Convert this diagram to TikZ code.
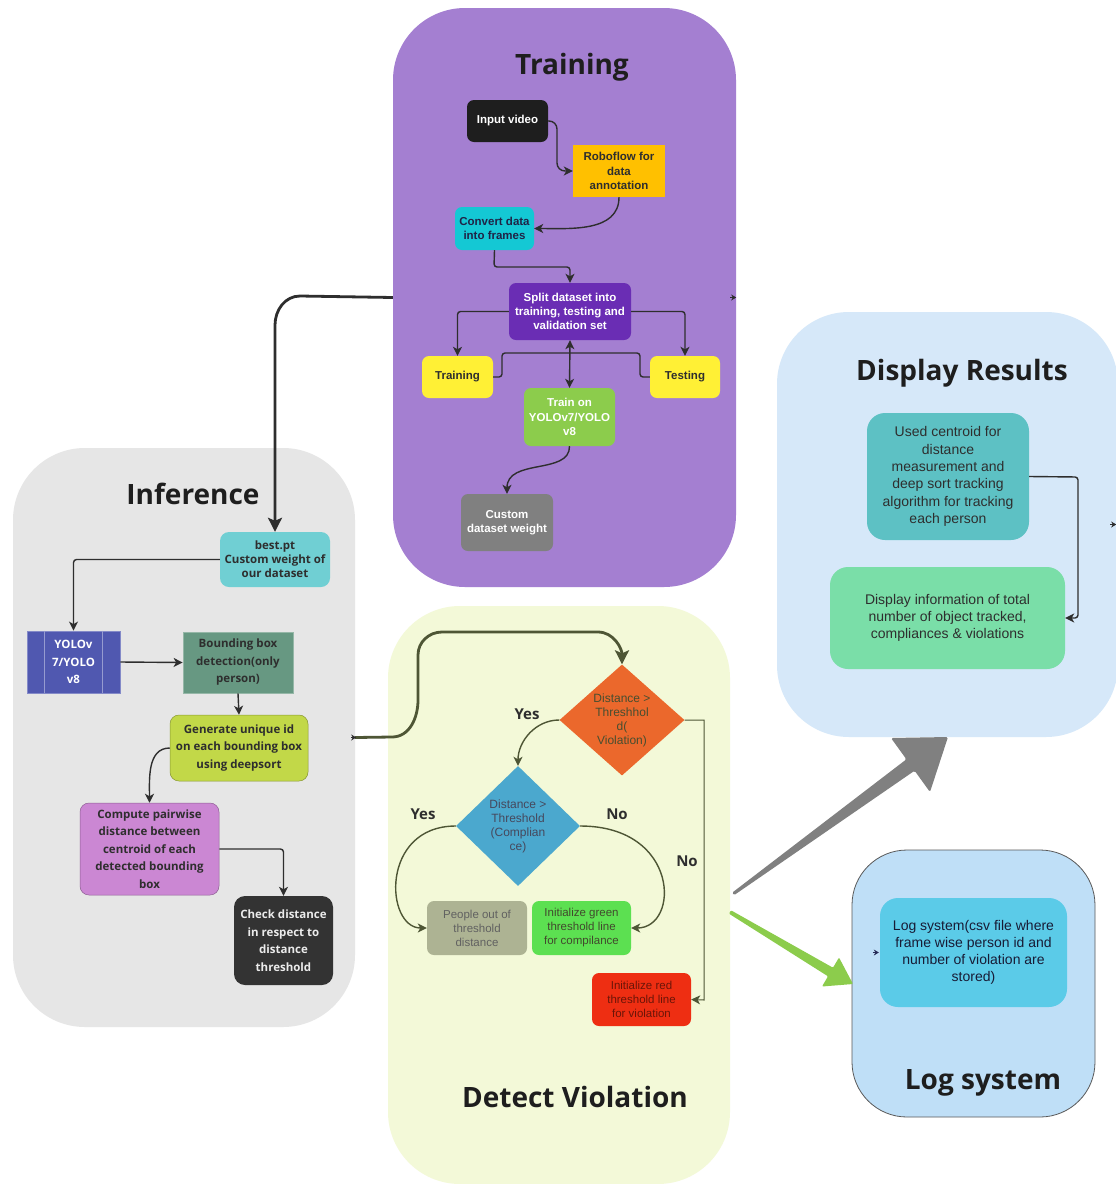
\documentclass[tikz,border=0pt]{standalone}
\usepackage{fontspec}
\setmainfont{Liberation Sans}
\newfontfamily\osans{Open Sans}
\usetikzlibrary{shapes.geometric,arrows.meta,calc}

% panel colours
\definecolor{trainbg}{HTML}{A47FD1}
\definecolor{infbg}{HTML}{E6E6E6}
\definecolor{detbg}{HTML}{F3F9D8}
\definecolor{dispbg}{HTML}{D6E8F9}
\definecolor{logbg}{HTML}{BFDFF7}
% box colours
\definecolor{cblack}{HTML}{1E1E1E}
\definecolor{corange}{HTML}{FFC000}
\definecolor{ccyan}{HTML}{14C8D4}
\definecolor{cpurple}{HTML}{6A2DB4}
\definecolor{cyellow}{HTML}{FFF035}
\definecolor{cgreen}{HTML}{8CCC4C}
\definecolor{cgray}{HTML}{808080}
\definecolor{cbest}{HTML}{70CFD3}
\definecolor{cyolo}{HTML}{5058B0}
\definecolor{cbbox}{HTML}{679882}
\definecolor{cgen}{HTML}{C2D848}
\definecolor{ccomp}{HTML}{CB87D3}
\definecolor{ccheck}{HTML}{333333}
\definecolor{cdone}{HTML}{EB682C}
\definecolor{cdtwo}{HTML}{4BA8CE}
\definecolor{cpeople}{HTML}{ADB393}
\definecolor{cigreen}{HTML}{5CE051}
\definecolor{cired}{HTML}{EE2E12}
\definecolor{cused}{HTML}{5DC1C4}
\definecolor{cdisp}{HTML}{7ADEA8}
\definecolor{clog}{HTML}{5BCBE8}
\definecolor{olive}{HTML}{4E5635}
\definecolor{darktxt}{HTML}{2E2E2E}

\tikzset{
  panel/.style={draw=none, rounded corners=72pt, inner sep=0pt},
  title/.style={font=\osans\bfseries\fontsize{28}{30}\selectfont, text=cblack},
  tbox/.style={rounded corners=7pt, inner sep=0pt, align=center,
    font=\bfseries\fontsize{11.5}{14.2}\selectfont},
  ibox/.style={rounded corners=9pt, inner sep=0pt, align=center,
    font=\osans\bfseries\fontsize{11.5}{17.5}\selectfont, text=darktxt},
  dbox/.style={rounded corners=7pt, inner sep=0pt, align=center,
    font=\fontsize{11.5}{14}\selectfont},
  dia/.style={diamond, inner sep=0pt, align=center,
    font=\fontsize{12}{14}\selectfont},
  rbox/.style={rounded corners=18pt, inner sep=0pt, align=center,
    font=\fontsize{14}{17.3}\selectfont, text=darktxt},
  tip/.style={Stealth[length=9pt,width=9pt,inset=2.5pt]},
  conn/.style={draw=darktxt, line width=1.4pt, -{Stealth[length=9pt,width=9pt,inset=2.5pt]}},
  oconn/.style={draw=olive, line width=1.4pt, -{Stealth[length=9pt,width=9pt,inset=2.5pt]}},
  yn/.style={font=\osans\bfseries\fontsize{15}{18}\selectfont, text=darktxt},
  stub/.style={draw=darktxt, line width=0.8pt, -{Stealth[length=5pt,width=6pt]}},
}

\begin{document}
\begin{tikzpicture}[x=1pt,y=-1pt]
\useasboundingbox (0,0) rectangle (1116,1184);
\clip (0,0) rectangle (1116,1184);
\fill[white] (0,0) rectangle (1116,1184);

% ---------- panels ----------
\node[panel, fill=trainbg, minimum width=343pt, minimum height=579pt] (tr) at (564.5,297.5) {};
\node[panel, fill=infbg, minimum width=342pt, minimum height=579pt] (inf) at (184,737.5) {};
\node[panel, fill=detbg, minimum width=342pt, minimum height=578pt] (det) at (559,895) {};
\node[panel, fill=dispbg, minimum width=341pt, minimum height=425pt] (disp) at (947.5,524.5) {};
\node[panel, fill=logbg, draw=black!65, line width=0.8pt, rounded corners=55pt,
      minimum width=243pt, minimum height=267pt] (logp) at (973.5,983.5) {};

% ---------- titles ----------
\node[title] (trt) at (572,67) {Training};
\node[title] (inft) at (193,494) {Inference};
\node[title] (dett) at (575,1097) {Detect Violation};
\node[title] (dispt) at (962,373) {Display Results};
\node[title] (logt) at (983,1083) {Log system};

% ---------- training ----------
\node[tbox, fill=cblack, text=white, minimum width=81pt, minimum height=42pt] (inpv) at (507.5,121) {Input video};
\node[tbox, rounded corners=0pt, fill=corange, text=darktxt, minimum width=92pt, minimum height=52pt] (robo) at (619,171) {Roboflow for\\data\\annotation};
\node[tbox, fill=ccyan, text=cyolo!40!black, minimum width=79pt, minimum height=43pt] (conv) at (494.5,228.5) {Convert data\\into frames};
\node[tbox, fill=cpurple, text=white, minimum width=122pt, minimum height=57pt] (split) at (570,311.5) {Split dataset into\\training, testing and\\validation set};
\node[tbox, fill=cyellow, text=darktxt, minimum width=71pt, minimum height=42pt] (trn) at (457.5,377) {Training};
\node[tbox, fill=cyellow, text=darktxt, minimum width=70pt, minimum height=42pt] (tst) at (685,377) {Testing};
\node[tbox, fill=cgreen, text=white, minimum width=91pt, minimum height=58pt] (trainon) at (569.5,417) {Train on\\YOLOv7/YOLO\\v8};
\node[tbox, fill=cgray, text=white, minimum width=92pt, minimum height=57pt] (cust) at (507,522.5) {Custom\\dataset weight};

\draw[conn, rounded corners=8pt] (inpv.east) -- (557,121) -- (557,171) -- (robo.west);
\draw[conn] (robo.south) to[out=-90,in=0] (conv.east);
\draw[conn, rounded corners=3pt] (conv.south) -- (494,267) -- (570,267) -- (split.north);
\draw[conn, rounded corners=3pt] (split.west) -| (trn.north);
\draw[conn, rounded corners=3pt] (split.east) -| (tst.north);
\draw[draw=darktxt, line width=1.4pt, rounded corners=3pt] (trn.east) -- (502,377) -- (502,353) -- (640,353) -- (640,377) -- (tst.west);
\draw[conn, {Stealth[length=9pt,width=9pt,inset=2.5pt]}-{Stealth[length=9pt,width=9pt,inset=2.5pt]}] (split.south) -- (trainon.north);
\draw[conn] (trainon.south) .. controls (570,475) and (507,458) .. (cust.north);

% ---------- inference ----------
\node[ibox, fill=cbest, minimum width=110pt, minimum height=55pt, font=\osans\fontsize{11.5}{14}\selectfont\bfseries] (best) at (275,559.5) {best.pt\\Custom weight of\\our dataset};
\node[ibox, rounded corners=0pt, fill=cyolo, draw=cyolo!70!white, line width=0.8pt, text=white,
      minimum width=93pt, minimum height=62pt] (yolo) at (73.5,662) {YOLOv\\7/YOLO\\v8};
\draw[cyolo!60!white, line width=0.8pt] ($(yolo.north west)+(18,0)$) -- ($(yolo.south west)+(18,0)$)
  ($(yolo.north east)+(-18,0)$) -- ($(yolo.south east)+(-18,0)$);
\node[ibox, rounded corners=0pt, fill=cbbox, draw=cbbox!70!white, line width=0.8pt,
      minimum width=110pt, minimum height=61pt] (bbox) at (238,662.5) {Bounding box\\detection(only\\person)};
\node[ibox, fill=cgen, draw=cgen!70!black, line width=0.5pt, minimum width=138pt, minimum height=66pt] (gen) at (239,748) {Generate unique id\\on each bounding box\\using deepsort};
\node[ibox, fill=ccomp, draw=ccomp!70!black, line width=0.5pt, minimum width=139pt, minimum height=92pt] (comp) at (149.5,849) {Compute pairwise\\distance between\\centroid of each\\detected bounding\\box};
\node[ibox, fill=ccheck, text=white!92!black, minimum width=99pt, minimum height=89pt, rounded corners=11pt] (check) at (283.5,940.5) {Check distance\\in respect to\\distance\\threshold};

\draw[draw=darktxt, line width=2.8pt, -{Stealth[length=14pt,width=14pt,inset=3pt]}]
  (tr.west) -- (300,296) to[out=180,in=90] (275,325) -- (best.north);
\draw[conn, rounded corners=3pt] (best.west) -| (yolo.north);
\draw[conn] (yolo.east) -- (bbox.west);
\draw[conn] (bbox.south) -- (gen.north);
\draw[conn] (gen.west) to[out=180,in=90] (comp.north);
\draw[conn, rounded corners=3pt] (comp.east) -| (check.north);

% ---------- detect violation ----------
\node[dia, fill=cdone, text=olive!90!black, minimum width=125pt, minimum height=111pt] (d1) at (622,720) {Distance >\\Threshhol\\d(\\Violation)};
\node[dia, fill=cdtwo, text=cyolo!30!black!80, minimum width=124pt, minimum height=120pt] (d2) at (518,826) {Distance >\\Threshold\\(Complian\\ce)};
\node[dbox, fill=cpeople, text=black!62, minimum width=100pt, minimum height=54pt] (people) at (477,928) {People out of\\threshold\\distance};
\node[dbox, fill=cigreen, text=olive!85!black, minimum width=99pt, minimum height=54pt] (igreen) at (581.5,928) {Initialize green\\threshold line\\for compilance};
\node[dbox, fill=cired, text=cired!45!black, minimum width=99pt, minimum height=53pt] (ired) at (641.5,999.5) {Initialize red\\threshold line\\for violation};

\draw[draw=olive, line width=2.8pt, -{Stealth[length=14pt,width=14pt,inset=3pt]}]
  (inf.east) -- (392,737) to[out=0,in=-90] (418,700) -- (418,655) to[out=90,in=180] (442,632)
  -- (598,632) to[out=0,in=90] (d1.north);
\draw[oconn] (d1.west) to[out=180,in=90] (d2.north);
\draw[oconn] (d2.west) .. controls (380,826) and (385,928) .. (people.west);
\draw[oconn] (d2.east) .. controls (680,826) and (680,928) .. (igreen.east);
\draw[oconn, line width=1pt] (d1.east) -- (704,720) -- (704,1000) -- (ired.east);

\node[yn] (yes1) at (527,714) {Yes};
\node[yn] (yes2) at (423,814) {Yes};
\node[yn] (no1) at (617,814) {No};
\node[yn] (no2) at (687,861) {No};

% ---------- display results ----------
\node[rbox, fill=cused, minimum width=162pt, minimum height=127pt] (used) at (948,476.5) {Used centroid for\\distance\\measurement and\\deep sort tracking\\algorithm for tracking\\each person};
\node[rbox, fill=cdisp, minimum width=235pt, minimum height=102pt] (dinfo) at (947.5,618) {Display information of total\\number of object tracked,\\compliances \& violations};
\draw[conn, rounded corners=3pt] (used.east) -- (1078,477) -- (1078,618) -- (dinfo.east);

% ---------- log system ----------
\node[rbox, fill=clog, text=black!70!cyolo, minimum width=187pt, minimum height=109pt,
      font=\fontsize{14}{16.8}\selectfont] (loginner) at (973.5,952.5) {Log system(csv file where\\frame wise person id and\\number of violation are\\stored)};

% ---------- dangling stubs ----------
\coordinate (s1) at ($(tr.east)+(-6,0)$);
\draw[stub] (s1) -- (tr.east);
\coordinate (s2) at ($(inf.east)+(-4,0)$);
\draw[stub] (s2) -- ($(inf.east)+(1,0)$);
\coordinate (s3) at ($(disp.east)+(-8,0)$);
\draw[stub] (s3) -- ($(disp.east)+(-2,0)$);
\coordinate (s4) at ($(loginner.west)+(-7,0)$);
\draw[stub, draw=cyolo!50!black] (s4) -- ($(loginner.west)+(-1,0)$);

% ---------- tapered flow arrows ----------
\coordinate (ga) at (733,894);
\coordinate (gb) at (948,737);
\fill[cgray, rounded corners=1.5pt] (732,892.8) -- (906.4,759.3) -- (891,738) -- (gb) -- (930,792) -- (914.6,770.7) -- (734,895.2) -- cycle;
\coordinate (ka) at (730,912);
\coordinate (kb) at (853,984);
\fill[cgreen, rounded corners=1pt] (731,910.3) -- (833,967.7) -- (839,957.5) -- (kb) -- (822,986.5) -- (828,976.3) -- (729,913.7) -- cycle;
\end{tikzpicture}
\end{document}
